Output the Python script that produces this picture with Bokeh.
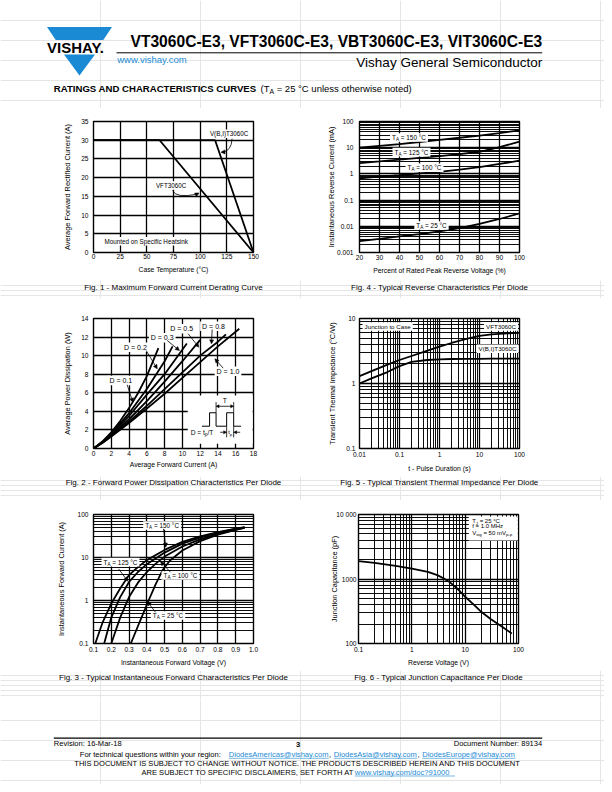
from bokeh.plotting import figure
from bokeh.layouts import column, row
from bokeh.models import Range1d, FixedTicker, Arrow, NormalHead
from bokeh.core.properties import value
from bokeh.embed import file_html
from bokeh.resources import INLINE

SANS = "'Liberation Sans', Arial, sans-serif"
BLUE = "#1a8ad4"

# ================= DATA =================
# Fig. 1 - derating
fig1_temp_vft = [0, 62, 150]
fig1_curr_vft = [30, 30, 0]
fig1_temp_vbi = [0, 114, 150]
fig1_curr_vbi = [30, 30, 0]
fig1_xticks = [0, 25, 50, 75, 100, 125, 150]
fig1_xlabels = ["0", "25", "50", "75", "100", "125", "150"]
fig1_yticks = [0, 5, 10, 15, 20, 25, 30, 35]
fig1_ylabels = ["0", "5", "10", "15", "20", "25", "30", "35"]

# Fig. 4 - reverse characteristics
fig4_pct = [20, 30, 40, 50, 60, 70, 80, 90, 100]
fig4_ir_150 = [10, 11.8, 13.8, 16.5, 20, 24, 29, 36, 46]
fig4_ir_125 = [2.6, 3.0, 3.5, 4.1, 4.8, 5.7, 7.0, 10.5, 17]
fig4_ir_100 = [0.68, 0.78, 0.9, 1.05, 1.2, 1.45, 1.8, 2.4, 3.2]
fig4_ir_25 = [0.0027, 0.0033, 0.0041, 0.005, 0.0064, 0.0085, 0.0125, 0.019, 0.031]
fig4_xticks = [20, 30, 40, 50, 60, 70, 80, 90, 100]
fig4_xlabels = ["20", "30", "40", "50", "60", "70", "80", "90", "100"]
fig4_yticks = [0.001, 0.01, 0.1, 1, 10, 100]
fig4_ylabels = ["0.001", "0.01", "0.1", "1", "10", "100"]

# Fig. 2 - power dissipation
fig2_if_d01 = [0, 1, 2, 3, 4, 5, 6, 7.3]
fig2_p_d01 = [0, 0.75, 1.75, 2.95, 4.35, 5.95, 7.8, 10.8]
fig2_if_d02 = [0, 1, 2, 4, 6, 8, 8.9]
fig2_p_d02 = [0, 0.7, 1.6, 3.8, 6.4, 9.4, 11.0]
fig2_if_d03 = [0, 1, 2, 4, 6, 8, 10.5]
fig2_p_d03 = [0, 0.68, 1.55, 3.5, 5.8, 8.0, 11.3]
fig2_if_d05 = [0, 1, 2, 4, 6, 8, 10, 12]
fig2_p_d05 = [0, 0.65, 1.45, 3.15, 5.1, 7.2, 9.4, 11.7]
fig2_if_d08 = [0, 1, 2, 4, 6, 8, 10, 12, 14, 14.9]
fig2_p_d08 = [0, 0.62, 1.35, 2.9, 4.6, 6.4, 8.2, 10.0, 11.5, 12.3]
fig2_if_d10 = [0, 1, 2, 4, 6, 8, 10, 12, 14, 16.4]
fig2_p_d10 = [0, 0.6, 1.3, 2.75, 4.3, 5.9, 7.6, 9.3, 11.0, 12.9]
fig2_xticks = [0, 2, 4, 6, 8, 10, 12, 14, 16, 18]
fig2_xlabels = ["0", "2", "4", "6", "8", "10", "12", "14", "16", "18"]
fig2_yticks = [0, 2, 4, 6, 8, 10, 12, 14]
fig2_ylabels = ["0", "2", "4", "6", "8", "10", "12", "14"]

# Fig. 5 - transient thermal impedance
fig5_t = [0.01, 0.02, 0.05, 0.1, 0.2, 0.5, 1, 2, 5, 10, 20, 50, 100]
fig5_z_vft = [1.3, 1.55, 1.95, 2.3, 2.65, 3.2, 3.7, 4.2, 4.9, 5.4, 5.7, 5.9, 6.0]
fig5_z_vbi = [1.0, 1.2, 1.5, 1.85, 2.15, 2.3, 2.35, 2.38, 2.4, 2.4, 2.42, 2.42, 2.42]
fig5_xticks = [0.01, 0.1, 1, 10, 100]
fig5_xlabels = ["0.01", "0.1", "1", "10", "100"]
fig5_yticks = [0.1, 1, 10]
fig5_ylabels = ["0.1", "1", "10"]

# Fig. 3 - forward characteristics
fig3_vf_150 = [0.11, 0.15, 0.2, 0.25, 0.3, 0.35, 0.4, 0.5, 0.6, 0.7, 0.8, 0.9, 0.95]
fig3_if_150 = [0.1, 0.3, 0.85, 1.9, 3.9, 6.0, 8.7, 15, 23, 31, 39, 47, 51]
fig3_vf_125 = [0.16, 0.2, 0.25, 0.3, 0.35, 0.4, 0.5, 0.6, 0.7, 0.8, 0.9, 0.95]
fig3_if_125 = [0.1, 0.4, 1.2, 2.7, 4.6, 7.0, 13, 21, 29, 38, 46, 50]
fig3_vf_100 = [0.2, 0.25, 0.3, 0.35, 0.4, 0.45, 0.5, 0.6, 0.7, 0.8, 0.9, 0.95]
fig3_if_100 = [0.1, 0.4, 1.2, 2.6, 4.6, 7.2, 10.5, 18, 26.5, 35.5, 44.5, 49.5]
fig3_vf_25 = [0.31, 0.36, 0.41, 0.45, 0.49, 0.53, 0.6, 0.7, 0.8, 0.9, 0.95]
fig3_if_25 = [0.1, 0.32, 1.0, 2.4, 5.2, 8.5, 14.5, 24, 34, 44, 49]
fig3_xticks = [0.1, 0.2, 0.3, 0.4, 0.5, 0.6, 0.7, 0.8, 0.9, 1]
fig3_xlabels = ["0.1", "0.2", "0.3", "0.4", "0.5", "0.6", "0.7", "0.8", "0.9", "1.0"]
fig3_yticks = [0.1, 1, 10, 100]
fig3_ylabels = ["0.1", "1", "10", "100"]

# Fig. 6 - junction capacitance
fig6_vr = [0.1, 0.2, 0.5, 1, 2, 3, 4, 5, 7, 10, 15, 20, 30, 50, 75]
fig6_cj = [1900, 1780, 1600, 1450, 1290, 1150, 1020, 910, 720, 530, 390, 310, 240, 180, 143]
fig6_xticks = [0.1, 1, 10, 100]
fig6_xlabels = ["0.1", "1", "10", "100"]
fig6_yticks = [100, 1000, 10000]
fig6_ylabels = ["100", "1000", "10 000"]

# ================= HELPERS =================
AW = {' ': 278, '!': 278, '(': 333, ')': 333, ',': 278, '-': 333, '.': 278, '/': 278, ':': 278,
      '=': 584, '°': 400, '%': 889, '@': 1015, '?': 556,
      'A': 667, 'B': 667, 'C': 722, 'D': 722, 'E': 667, 'F': 611, 'G': 778, 'H': 722, 'I': 278,
      'J': 500, 'K': 667, 'L': 556, 'M': 833, 'N': 722, 'O': 778, 'P': 667, 'Q': 778, 'R': 722,
      'S': 667, 'T': 611, 'U': 722, 'V': 667, 'W': 944, 'X': 667, 'Y': 667, 'Z': 611,
      'a': 556, 'b': 556, 'c': 500, 'd': 556, 'e': 556, 'f': 278, 'g': 556, 'h': 556, 'i': 222,
      'j': 222, 'k': 500, 'l': 222, 'm': 833, 'n': 556, 'o': 556, 'p': 556, 'q': 556, 'r': 333,
      's': 500, 't': 278, 'u': 556, 'v': 500, 'w': 722, 'x': 500, 'y': 500, 'z': 500}


def tw(s, size):
    return sum(AW.get(c, 556) for c in s) / 1000.0 * size


def put(p, x, y, s, size=6.4, align="center", color="black", style="normal", xo=0, yo=0):
    p.text(x=[x], y=[y], text=[s], text_font=value(SANS), text_font_size="%.2fpx" % size,
           text_align=align, text_baseline="middle", text_color=color,
           text_font_style=style, x_offset=xo, y_offset=yo)


def rich(p, x, y, parts, size=6.4, box=True, align="center", color="black", pad=2.0,
         style="normal"):
    ssize = size * 0.72
    widths = [tw(t, ssize if sub else size) for t, sub in parts]
    total = sum(widths)
    off = -total / 2.0 if align == "center" else 0.0
    if box:
        p.rect(x=[x], y=[y], width=[total + 2 * pad], height=[size * 1.35],
               width_units="screen", height_units="screen", fill_color="white", line_color=None)
    for (t, sub), w in zip(parts, widths):
        sz = ssize if sub else size
        st = t.lstrip(" ")
        lead = tw(" " * (len(t) - len(st)), sz)
        if st:
            put(p, x, y, st, size=sz, align="left", color=color, style=style,
                xo=off + lead, yo=(size * 0.32 if sub else 0))
        off += w


def arrow(p, x0, y0, x1, y1, size=4, both=False):
    def head():
        return NormalHead(size=size, fill_color="black", line_color="black", line_width=0.5)
    p.add_layout(Arrow(end=head(), start=(head() if both else None), x_start=x0, y_start=y0,
                       x_end=x1, y_end=y1, line_color="black", line_width=0.8))


def log_minor(lo, hi):
    return [m * 10.0 ** e for e in range(lo, hi) for m in range(2, 10)]


def chart(w, h, ml, mr, mt, mb, xr, yr, xt="linear", yt="linear"):
    p = figure(width=w, height=h, x_range=xr, y_range=yr, x_axis_type=xt, y_axis_type=yt,
               output_backend="svg", toolbar_location=None,
               min_border_left=ml, min_border_right=mr, min_border_top=mt, min_border_bottom=mb)
    p.outline_line_color = "black"
    p.outline_line_width = 1.4
    p.background_fill_color = "white"
    p.border_fill_color = "white"
    for g in (p.xgrid[0], p.ygrid[0]):
        g.grid_line_color = "black"
        g.grid_line_width = 1.3
        g.grid_line_alpha = 1.0
        g.minor_grid_line_color = "black"
        g.minor_grid_line_width = 0.95
    return p


def style(p, xlab, ylab, xt_std, xl_std, yt_std, yl_std):
    xa, ya = p.xaxis[0], p.yaxis[0]
    for ax in (xa, ya):
        ax.axis_line_color = None
        ax.major_tick_line_color = None
        ax.minor_tick_line_color = None
        ax.major_tick_in = 0
        ax.major_tick_out = 0
        ax.minor_tick_in = 0
        ax.minor_tick_out = 0
        ax.major_label_text_font = SANS
        ax.major_label_text_font_size = "6.6px"
        ax.major_label_text_color = "black"
        ax.axis_label_text_color = "black"
        ax.axis_label_text_font_style = "normal"
        ax.axis_label_text_font = SANS
    xa.axis_label = xlab
    xa.axis_label_text_font_size = "6.8px"
    ya.axis_label = ylab
    ya.axis_label_text_font_size = "7.4px"
    xa.major_label_standoff = xt_std
    xa.axis_label_standoff = xl_std
    ya.major_label_standoff = yt_std
    ya.axis_label_standoff = yl_std


def ticks(p, dim, major, labels, minor=()):
    t = FixedTicker(ticks=list(major), minor_ticks=list(minor))
    ax = p.xaxis[0] if dim == "x" else p.yaxis[0]
    g = p.xgrid[0] if dim == "x" else p.ygrid[0]
    ax.ticker = t
    g.ticker = t
    ax.major_label_overrides = dict(zip(major, labels))


PAGE_W = 604


def strip(y_top, y_bot):
    p = figure(width=PAGE_W, height=int(round(y_bot - y_top)), x_range=Range1d(0, PAGE_W),
               y_range=Range1d(y_bot, y_top), output_backend="svg", toolbar_location=None,
               min_border=0, x_axis_location=None, y_axis_location=None)
    p.outline_line_color = None
    p.background_fill_color = "white"
    p.border_fill_color = "white"
    return p


LW = 1.8

# ================= HEADER =================
hdr = strip(0, 108)
hdr.patch([46.5, 111.5, 102.8, 55.2], [26.5, 26.5, 39.5, 39.5], fill_color=BLUE, line_color=None)
hdr.patch([63.5, 94.5, 79], [54, 54, 75], fill_color=BLUE, line_color=None)
put(hdr, 75, 47, "VISHAY.", size=15, style="bold")
put(hdr, 541.7, 40.7, "VT3060C-E3, VFT3060C-E3, VBT3060C-E3, VIT3060C-E3", size=15.6,
    style="bold", align="right")
hdr.segment(x0=[116], y0=[52.3], x1=[541.7], y1=[52.3], line_color="black", line_width=1.0)
put(hdr, 116.7, 59.3, "www.vishay.com", size=9.5, align="left", color=BLUE)
put(hdr, 541.7, 62.3, "Vishay General Semiconductor", size=13.5, align="right")
put(hdr, 53.3, 88.3, "RATINGS AND CHARACTERISTICS CURVES", size=9.6, style="bold", align="left")
rich(hdr, 260, 88.3, [("(T", False), ("A", True), (" = 25 °C unless otherwise noted)", False)],
     size=9.5, box=False, align="left")

# ================= FIG 1 =================
f1 = chart(298, 172, 93, 45, 13, 28, Range1d(0, 150), Range1d(0, 35))
style(f1, "Case Temperature (°C)", "Average Forward Rectified Current (A)", 1, 4, 5, 6)
ticks(f1, "x", fig1_xticks, fig1_xlabels)
ticks(f1, "y", fig1_yticks, fig1_ylabels)
f1.line(fig1_temp_vft, fig1_curr_vft, line_color="black", line_width=LW)
f1.line(fig1_temp_vbi, fig1_curr_vbi, line_color="black", line_width=LW)
rich(f1, 127.2, 31.7, [("V(B,I)T3060C", False)], size=6.3)
f1.quadratic(x0=[129.9], y0=[30.4], x1=[120.5], y1=[26.8], cx=[129.4], cy=[27.0],
             line_color="black", line_width=0.8)
arrow(f1, 122.5, 26.85, 119.5, 26.8)
rich(f1, 72.8, 17.9, [("VFT3060C", False)], size=6.3)
f1.quadratic(x0=[74.1], y0=[16.6], x1=[97.5], y1=[15.6], cx=[76.9], cy=[14.4],
             line_color="black", line_width=0.8)
arrow(f1, 95.5, 15.4, 99.0, 15.9)
rich(f1, 49.4, 3.0, [("Mounted on Specific Heatsink", False)], size=6.3)

# ================= FIG 4 =================
f4 = chart(306, 172, 61, 85, 13, 28, Range1d(20, 100), Range1d(0.001, 100), yt="log")
style(f4, "Percent of Rated Peak Reverse Voltage (%)", "Instantaneous Reverse Current (mA)",
      2, 4, 6, -2)
ticks(f4, "x", fig4_xticks, fig4_xlabels)
ticks(f4, "y", fig4_yticks, fig4_ylabels, log_minor(-3, 2))
for ys in (fig4_ir_150, fig4_ir_125, fig4_ir_100, fig4_ir_25):
    f4.line(fig4_pct, ys, line_color="black", line_width=LW)
rich(f4, 44.75, 24.6, [("T", False), ("A", True), (" = 150 °C", False)])
rich(f4, 46.0, 6.8, [("T", False), ("A", True), (" = 125 °C", False)])
rich(f4, 52.5, 1.71, [("T", False), ("A", True), (" = 100 °C", False)])
rich(f4, 56.0, 0.0107, [("T", False), ("A", True), (" = 25 °C", False)])

# ================= FIG 2 =================
f2 = chart(298, 178, 93, 45, 20, 28, Range1d(0, 18), Range1d(0, 14))
style(f2, "Average Forward Current (A)", "Average Power Dissipation (W)", 2, 2, 5, 6)
ticks(f2, "x", fig2_xticks, fig2_xlabels)
ticks(f2, "y", fig2_yticks, fig2_ylabels)
for xs, ys in ((fig2_if_d01, fig2_p_d01), (fig2_if_d02, fig2_p_d02), (fig2_if_d03, fig2_p_d03),
               (fig2_if_d05, fig2_p_d05), (fig2_if_d08, fig2_p_d08), (fig2_if_d10, fig2_p_d10)):
    f2.line(xs, ys, line_color="black", line_width=LW)
rich(f2, 3.07, 7.32, [("D = 0.1", False)], size=7)
rich(f2, 4.72, 10.91, [("D = 0.2", False)], size=7)
rich(f2, 7.73, 11.92, [("D = 0.3", False)], size=7)
rich(f2, 9.92, 12.89, [("D = 0.5", False)], size=7)
rich(f2, 13.5, 13.17, [("D = 0.8", False)], size=7)
rich(f2, 15.13, 8.32, [("D = 1.0", False)], size=7)
arrow(f2, 3.79, 6.86, 4.42, 4.99)
arrow(f2, 5.93, 10.55, 7.17, 8.58)
arrow(f2, 8.29, 11.63, 9.67, 10.55)
arrow(f2, 10.65, 12.35, 11.85, 10.91)
arrow(f2, 13.35, 12.82, 13.27, 11.27)
arrow(f2, 14.59, 8.65, 13.65, 9.66)
# pulse inset
f2.quad(left=[10.6], right=[17.9], bottom=[0.5], top=[5.7], fill_color="white", line_color=None)
f2.line([12.2, 13.06, 13.06, 13.79, 13.79, 14.98, 14.98, 15.77, 15.77, 16.6],
        [2.4, 2.4, 3.85, 3.85, 2.4, 2.4, 3.85, 3.85, 2.4, 2.4], line_color="black", line_width=1.0)
f2.segment(x0=[13.79, 15.77], y0=[3.85, 3.85], x1=[13.79, 15.77], y1=[5.0, 5.0],
           line_color="black", line_width=0.8)
arrow(f2, 13.79, 4.55, 15.77, 4.55, size=3, both=True)
put(f2, 14.78, 5.2, "T", size=6.8)
f2.segment(x0=[14.98, 15.77], y0=[2.4, 2.4], x1=[14.98, 15.77], y1=[1.2, 1.2],
           line_color="black", line_width=0.8)
arrow(f2, 14.25, 1.75, 14.98, 1.75, size=3)
arrow(f2, 16.5, 1.75, 15.77, 1.75, size=3)
rich(f2, 15.375, 1.75, [("t", False), ("p", True)], size=6.0, box=False)
rich(f2, 12.2, 1.75, [("D = t", False), ("p", True), ("/T", False)], size=6.6, box=False)

# ================= FIG 5 =================
f5 = chart(306, 178, 61, 85, 20, 28, Range1d(0.01, 100), Range1d(0.1, 10), xt="log", yt="log")
style(f5, "t - Pulse Duration (s)", "Transient Thermal Impedance (°C/W)", 3, 5, 4, 6)
ticks(f5, "x", fig5_xticks, fig5_xlabels, log_minor(-2, 2))
ticks(f5, "y", fig5_yticks, fig5_ylabels, log_minor(-1, 1))
f5.line(fig5_t, fig5_z_vft, line_color="black", line_width=LW)
f5.line(fig5_t, fig5_z_vbi, line_color="black", line_width=LW)
rich(f5, 0.0507, 7.53, [("Junction to Case", False)], size=6.2)
rich(f5, 34.5, 7.53, [("VFT3060C", False)], size=6.2)
rich(f5, 28.2, 3.42, [("V(B,I)T3060C", False)], size=6.2)

# ================= FIG 3 =================
f3 = chart(298, 170, 93, 45, 14, 27, Range1d(0.1, 1.0), Range1d(0.1, 100), yt="log")
style(f3, "Instantaneous Forward Voltage (V)", "Instantaneous Forward Current (A)", 3, 4, 5, 8)
ticks(f3, "x", fig3_xticks, fig3_xlabels)
ticks(f3, "y", fig3_yticks, fig3_ylabels, log_minor(-1, 2))
for xs, ys in ((fig3_vf_150, fig3_if_150), (fig3_vf_125, fig3_if_125),
               (fig3_vf_100, fig3_if_100), (fig3_vf_25, fig3_if_25)):
    f3.line(xs, ys, line_color="black", line_width=LW)
rich(f3, 0.486, 55.5, [("T", False), ("A", True), (" = 150 °C", False)])
rich(f3, 0.252, 7.78, [("T", False), ("A", True), (" = 125 °C", False)])
rich(f3, 0.589, 3.81, [("T", False), ("A", True), (" = 100 °C", False)])
rich(f3, 0.519, 0.448, [("T", False), ("A", True), (" = 25 °C", False)])
arrow(f3, 0.494, 46.4, 0.507, 17.4)
arrow(f3, 0.241, 5.46, 0.293, 2.81)
arrow(f3, 0.533, 4.55, 0.477, 8.07)
arrow(f3, 0.449, 0.534, 0.402, 0.948)

# ================= FIG 6 =================
f6 = chart(306, 170, 60, 86, 14, 27, Range1d(0.1, 100), Range1d(100, 10000), xt="log", yt="log")
style(f6, "Reverse Voltage (V)", "Junction Capacitance (pF)", 3, 4, 2, -6)
ticks(f6, "x", fig6_xticks, fig6_xlabels, log_minor(-1, 2))
ticks(f6, "y", fig6_yticks, fig6_ylabels, log_minor(2, 4))
f6.line(fig6_vr, fig6_cj, line_color="black", line_width=LW)
f6.quad(left=[11.7], right=[97], bottom=[3950], top=[9300], fill_color="white", line_color=None)
rich(f6, 13.55, 7870, [("T", False), ("J", True), (" = 25 °C", False)], size=6.0, box=False, align="left")
rich(f6, 13.55, 6520, [("f = 1.0 MHz", False)], size=6.0, box=False, align="left")
rich(f6, 13.55, 5200, [("V", False), ("sig", True), (" = 50 mV", False), ("p-p", True)],
     size=6.0, box=False, align="left")

# ================= CAPTIONS =================
cap1 = strip(280, 298)
put(cap1, 173, 287, "Fig. 1 - Maximum Forward Current Derating Curve", size=8)
put(cap1, 439, 287, "Fig. 4 - Typical Reverse Characteristics Per Diode", size=8)
cap2 = strip(476, 500)
put(cap2, 173, 481.7, "Fig. 2 - Forward Power Dissipation Characteristics Per Diode", size=8)
put(cap2, 439, 481.7, "Fig. 5 - Typical Transient Thermal Impedance Per Diode", size=8)
cap3 = strip(670, 700)
put(cap3, 173, 676.7, "Fig. 3 - Typical Instantaneous Forward Characteristics Per Diode", size=8)
put(cap3, 438, 676.7, "Fig. 6 - Typical Junction Capacitance Per Diode", size=8)

# ================= FOOTER =================
FS = 7.55
ftr = strip(700, 784)
ftr.segment(x0=[53.3], y0=[737.7], x1=[541.7], y1=[737.7], line_color="black", line_width=1.2)
put(ftr, 53.3, 743.3, "Revision: 16-Mar-18", size=FS, align="left")
put(ftr, 297.7, 744, "3", size=FS, style="bold")
put(ftr, 541.7, 743.3, "Document Number: 89134", size=FS, align="right")
put(ftr, 79.3, 754, "For technical questions within your region:", size=FS, align="left")
put(ftr, 228.3, 754, "DiodesAmericas@vishay.com", size=FS, align="left", color=BLUE)
put(ftr, 328.6, 754, ",", size=FS, align="left")
put(ftr, 333.3, 754, "DiodesAsia@vishay.com", size=FS, align="left", color=BLUE)
put(ftr, 417.0, 754, ",", size=FS, align="left")
put(ftr, 421.7, 754, "DiodesEurope@vishay.com", size=FS, align="left", color=BLUE)
ftr.segment(x0=[228.3, 333.3, 421.7], y0=[757.8] * 3, x1=[328.3, 416.7, 515.0], y1=[757.8] * 3,
            line_color=BLUE, line_width=0.6)
put(ftr, 297.2, 763.3,
    "THIS DOCUMENT IS SUBJECT TO CHANGE WITHOUT NOTICE. THE PRODUCTS DESCRIBED HEREIN AND THIS DOCUMENT",
    size=FS)
put(ftr, 141.0, 771.7, "ARE SUBJECT TO SPECIFIC DISCLAIMERS, SET FORTH AT", size=FS, align="left")
put(ftr, 354.3, 771.7, "www.vishay.com/doc?91000", size=FS, align="left", color=BLUE)
ftr.segment(x0=[354.3], y0=[775.5], x1=[454.3], y1=[775.5], line_color=BLUE, line_width=0.6)

layout = column(hdr, row(f1, f4), cap1, row(f2, f5), cap2, row(f3, f6), cap3, ftr, spacing=0)
open("out.html", "w").write(file_html(layout, INLINE, title="VT3060C-E3 curves"))
